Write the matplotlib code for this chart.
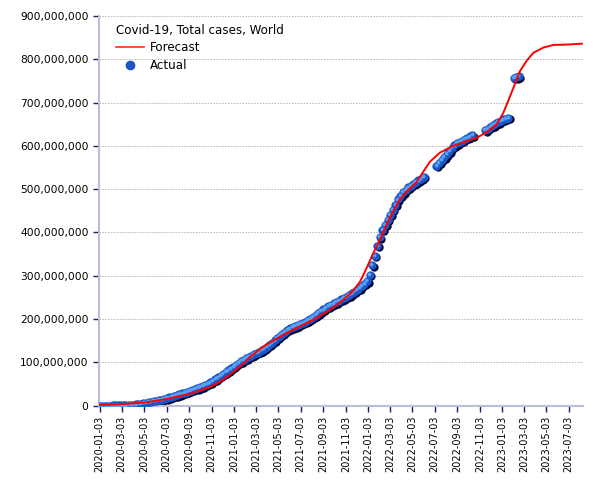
import numpy as np
import pandas as pd
import matplotlib
matplotlib.use('Agg')
import matplotlib.pyplot as plt
import matplotlib.dates as mdates
import matplotlib.transforms as mtransforms
from matplotlib.lines import Line2D
from matplotlib.ticker import FuncFormatter, MultipleLocator

# Forecast curve (millions of cases)
forecast_dates = ['2020-01-03', '2020-03-03', '2020-05-05', '2020-07-03', '2020-09-04', '2020-11-02',
                  '2020-12-05', '2021-01-05', '2021-02-01', '2021-02-15', '2021-03-23', '2021-05-08',
                  '2021-06-22', '2021-08-06', '2021-09-21', '2021-10-27', '2021-11-23', '2021-12-11',
                  '2021-12-20', '2021-12-30', '2022-01-08', '2022-01-17', '2022-02-04', '2022-02-22',
                  '2022-03-12', '2022-03-30', '2022-04-18', '2022-05-15', '2022-06-02', '2022-06-20',
                  '2022-07-17', '2022-08-23', '2022-09-28', '2022-10-25', '2022-11-22', '2022-12-19',
                  '2023-01-06', '2023-01-20', '2023-02-02', '2023-02-20', '2023-03-11', '2023-03-29',
                  '2023-04-25', '2023-05-22', '2023-06-28', '2023-08-08']
forecast_values = [1, 3, 7, 15, 27, 44,
                   60, 80, 100, 112, 136, 159,
                   179, 198, 221, 244, 265, 285,
                   300, 318, 335, 352, 383, 418,
                   449, 476, 495, 516, 540, 563,
                   584, 600, 611, 618, 632, 650,
                   676, 705, 733, 772, 797, 815,
                   827, 833, 834, 836]

# Actual totals, one value per week from 2020-01-03 (millions, nan = no report)
actual_start = '2020-01-03'
nan = np.nan
actual_values = [
    0, 0, 0, 0, 0, 0.1, 0.1, 0.1, 0.1, 0.2,
    0.3, 0.6, 1.1, 1.8, 2.6, 3.5, 4.4, 5.4, 6.4, 7.5,
    8.6, 9.8, 11.0, 12.3, 13.7, 15.2, 16.8, 18.5, 20.3, 22.2,
    24.1, 26.0, 28.0, 30.0, 32.0, 34.1, 36.2, 38.3, 40.4, 42.6,
    44.9, 47.4, 50.2, 53.4, 57.0, 61.0, 65.0, 69.0, 73.0, 77.0,
    81.0, 85.5, 90.0, 94.5, 98.5, 102.5, 106, 109.5, 112.5, 115.5,
    118.5, 121.5, 124.5, 128, 131.5, 135.5, 140, 145, 150.5, 156,
    161, 166, 170.5, 174.5, 178, 181, 183.5, 186, 188.5, 191,
    194, 197.5, 201, 205, 209, 213.5, 218, 222, 226, 229.5,
    233, 236, 239, 242, 245, 248, 251.5, 255, 259, 263,
    267, 271, 277, 281, 287, 302, 324, 346, 369, 389,
    406, 418, 429, 441, 452, 464, 476, 485, 493, 499,
    504, 508, 512, 516, 520, 524, 528, nan, nan, nan,
    nan, 554, 561, 568, 574, 581, 588, 595, 601, 606,
    609, 612, 616, 619, 622, 625, nan, nan, nan, nan,
    636, 640, 644, 648, 652, 655, 658, 661, 663, 665,
    nan, 757, 759, 761,
]

x_tick_dates = pd.date_range('2020-01-03', periods=22, freq=pd.DateOffset(months=2))

f_dates = pd.to_datetime(forecast_dates)
f_vals = np.array(forecast_values) * 1e6
a_dates = pd.date_range(actual_start, periods=len(actual_values), freq='7D')
a_vals = np.array(actual_values, dtype=float) * 1e6

fig = plt.figure(figsize=(6.05, 4.8), dpi=100)
ax = fig.add_axes([0.1636, 0.1552, 0.80, 0.8115])

# actual points: shadow, sphere, highlight
shadow = mtransforms.offset_copy(ax.transData, fig=fig, x=1.5, y=-1.5, units='dots')
hilite = mtransforms.offset_copy(ax.transData, fig=fig, x=-0.8, y=0.8, units='dots')
ax.plot(a_dates, a_vals, 'o', color='#000833', markersize=6, markeredgewidth=0, transform=shadow, zorder=2)
ax.plot(a_dates, a_vals, 'o', color='#1c55c8', markersize=6, markeredgewidth=0, zorder=3)
ax.plot(a_dates, a_vals, 'o', color='#58a0f0', markersize=2.8, markeredgewidth=0, transform=hilite, zorder=4)

ax.plot(f_dates, f_vals, color='red', linewidth=1.4, zorder=5)

ax.set_ylim(0, 900e6)
ax.set_xlim(pd.Timestamp('2020-01-01'), pd.Timestamp('2023-08-11'))
ax.yaxis.set_major_locator(MultipleLocator(100e6))
ax.yaxis.set_major_formatter(FuncFormatter(lambda v, p: f'{v:,.0f}'))
ax.set_xticks(x_tick_dates)
ax.xaxis.set_major_formatter(mdates.DateFormatter('%Y-%m-%d'))
plt.setp(ax.get_xticklabels(), rotation=90, fontsize=7)
plt.setp(ax.get_yticklabels(), fontsize=7.7)
ax.tick_params(axis='both', color='#1a1a6a', length=4, width=1)

ax.grid(True, axis='y', color='#b4b4b4', linestyle=(0, (1.5, 1.5)), linewidth=0.7)
for s in ['top', 'right']:
    ax.spines[s].set_visible(False)
for s in ['left', 'bottom']:
    ax.spines[s].set_color('#b8bed4')
    ax.spines[s].set_linewidth(1.5)

handles = [Line2D([], [], color='#ff3300', linewidth=1.2),
           Line2D([], [], marker='o', linestyle='none', color='#1c55c8', markersize=6)]
leg = ax.legend(handles, ['Forecast', 'Actual'], title='Covid-19, Total cases, World',
                loc='upper left', bbox_to_anchor=(0.012, 1.008), frameon=False,
                fontsize=8.6, title_fontsize=8.6, alignment='left', borderaxespad=0.5,
                handlelength=2.4, handletextpad=0.5, labelspacing=0.4)

fig.savefig('out.png', dpi=100)
